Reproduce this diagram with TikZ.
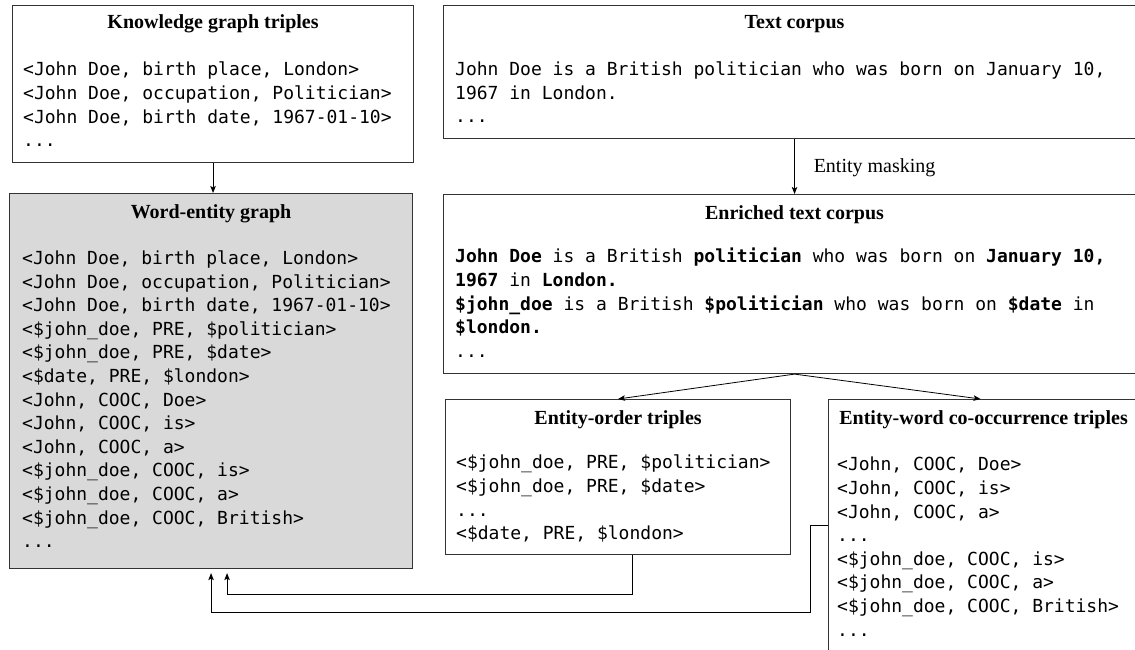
\documentclass[tikz,border=0pt]{standalone}
\usepackage{fontspec}
\setmainfont{Liberation Serif}
\newfontfamily\mono{DejaVu Sans Mono}
\usetikzlibrary{arrows.meta,calc}

\tikzset{
  box/.style={draw=black!80, line width=1.1pt, anchor=north west, inner sep=0pt},
  shaded/.style={box, fill=black!15},
  title/.style={anchor=base, inner sep=0pt, font=\fontsize{20}{24}\selectfont\bfseries},
  body/.style={anchor=north west, inner sep=0pt, align=left,
               font=\mono\fontsize{18}{23.6}\selectfont, execute at begin node=\strut},
  lbl/.style={anchor=base west, inner sep=0pt, font=\fontsize{20}{24}\selectfont},
  arr/.style={draw=black, line width=0.8pt, -{Stealth[length=7pt,width=5.5pt,inset=1.5pt]}},
}

\begin{document}
\begin{tikzpicture}[x=1pt, y=-1pt]
\useasboundingbox (0,0) rectangle (1135,650);
\clip (0,0) rectangle (1135,650);

% boxes
\node[box, minimum width=401pt, minimum height=157pt] (kg) at (12,5) {};
\node[box, minimum width=702pt, minimum height=133pt] (tc) at (443,5) {};
\node[shaded, minimum width=403pt, minimum height=375pt] (we) at (9,193) {};
\node[box, minimum width=702pt, minimum height=179pt] (en) at (443,194) {};
\node[box, minimum width=345pt, minimum height=155pt] (eo) at (445,399) {};
\node[box, minimum width=310pt, minimum height=300pt] (ew) at (828,399) {};

% titles
\node[title] (kgT) at ($(kg.north)+(0,24)$) {Knowledge graph triples};
\node[title] (tcT) at ($(tc.north)+(0,24)$) {Text corpus};
\node[title] (weT) at ($(we.north)+(0,25)$) {Word-entity graph};
\node[title] (enT) at ($(en.north)+(0,25)$) {Enriched text corpus};
\node[title] (eoT) at ($(eo.north)+(0,25)$) {Entity-order triples};
\node[title] (ewT) at ($(ew.north)+(0,25)$) {Entity-word co-occurrence triples};

% contents
\node[body] (kgB) at ($(kg.north west)+(11,57)$) {%
<John Doe, birth place, London>\\
<John Doe, occupation, Politician>\\
<John Doe, birth date, 1967-01-10>\\
...};

\node[body] (tcB) at ($(tc.north west)+(12,56.5)$) {%
John Doe is a British politician who was born on January 10,\\
1967 in London.\\
...};

\node[body] (weB) at ($(we.north west)+(13,57.5)$) {%
<John Doe, birth place, London>\\
<John Doe, occupation, Politician>\\
<John Doe, birth date, 1967-01-10>\\
<\$john\_doe, PRE, \$politician>\\
<\$john\_doe, PRE, \$date>\\
<\$date, PRE, \$london>\\
<John, COOC, Doe>\\
<John, COOC, is>\\
<John, COOC, a>\\
<\$john\_doe, COOC, is>\\
<\$john\_doe, COOC, a>\\
<\$john\_doe, COOC, British>\\
...};

\node[body] (enB) at ($(en.north west)+(12,54)$) {%
\textbf{John Doe} is a British \textbf{politician} who was born on \textbf{January 10,}\\
\textbf{1967} in \textbf{London.}\\
\textbf{\$john\_doe} is a British \textbf{\$politician} who was born on \textbf{\$date} in\\
\textbf{\$london.}\\
...};

\node[body] (eoB) at ($(eo.north west)+(11,56)$) {%
<\$john\_doe, PRE, \$politician>\\
<\$john\_doe, PRE, \$date>\\
...\\
<\$date, PRE, \$london>};

\node[body] (ewB) at ($(ew.north west)+(9,58)$) {%
<John, COOC, Doe>\\
<John, COOC, is>\\
<John, COOC, a>\\
...\\
<\$john\_doe, COOC, is>\\
<\$john\_doe, COOC, a>\\
<\$john\_doe, COOC, British>\\
...};

% connectors
\draw[arr] (kg.south) -- (kg.south |- we.north);
\draw[arr] (tc.south) -- (en.north);
\node[lbl] (mask) at ($(tc.south)+(19,33)$) {Entity masking};
\draw[arr] (en.south) -- (eo.north);
\draw[arr] (en.south) -- ([xshift=-3pt]ew.north);
\draw[arr] ([xshift=14.5pt]eo.south) -- ++(0,39) -| ([xshift=16pt,yshift=-4pt]we.south);
\draw[arr] ([yshift=-126pt]ew.north west) -- ++(-18,0) -- ++(0,87) -| ([yshift=-4pt]we.south);
\end{tikzpicture}
\end{document}
